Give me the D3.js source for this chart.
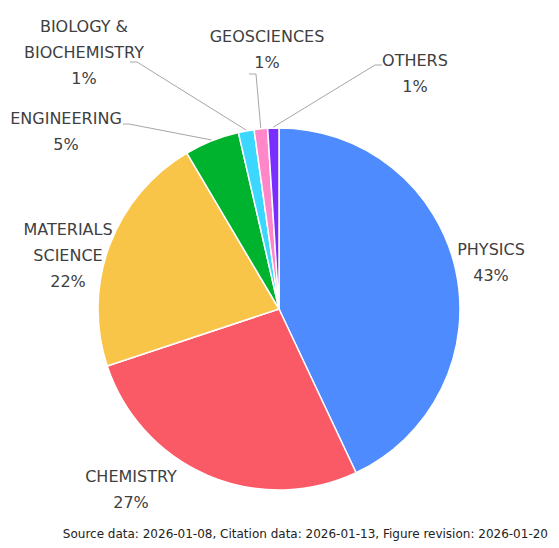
<!DOCTYPE html>
<html>
<head>
<meta charset="utf-8">
<script src="https://cdn.jsdelivr.net/npm/d3@7"></script>
<style>
  body { margin: 0; background: #fff; }
  text { font-family: "DejaVu Sans", sans-serif; fill: #404040; }
</style>
</head>
<body>
<div id="chart"></div>
<script>
// Data
const categories = ['PHYSICS', 'CHEMISTRY', 'MATERIALS SCIENCE', 'ENGINEERING', 'BIOLOGY & BIOCHEMISTRY', 'GEOSCIENCES', 'OTHERS'];
const shares = [43.0, 26.9, 21.6, 4.9, 1.4, 1.2, 1.0];
const labelLines = [['PHYSICS'], ['CHEMISTRY'], ['MATERIALS', 'SCIENCE'], ['ENGINEERING'], ['BIOLOGY &', 'BIOCHEMISTRY'], ['GEOSCIENCES'], ['OTHERS']];
const colors = ['#4e8bff', '#f95a66', '#f9c549', '#00b32e', '#3bd7ff', '#ff86c9', '#7a2dff'];
const footer = 'Source data: 2026-01-08, Citation data: 2026-01-13, Figure revision: 2026-01-20';

// Layout
const width = 559, height = 548;
const cx = 279, cy = 309, radius = 181;
// label centre x, first line y; elbow for leader lines (null = no leader)
const labelPos = [
  { x: 491, y: 255, elbow: null },
  { x: 131, y: 482, elbow: null },
  { x: 68, y: 235, elbow: null },
  { x: 66, y: 124, elbow: [[123, 124], [129, 124]] },
  { x: 84, y: 32, elbow: [[130, 62], [137, 62]] },
  { x: 267, y: 42, elbow: [[249, 74], [256, 74]] },
  { x: 415, y: 66, elbow: [[382, 65], [375, 65]] }
];
const lineH = 26;

const svg = d3.select('#chart')
  .append('svg')
  .attr('width', width)
  .attr('height', height);

const g = svg.append('g').attr('transform', `translate(${cx},${cy})`);

const pie = d3.pie().sort(null).value(d => d);
const arcs = pie(shares);
const arc = d3.arc().innerRadius(0).outerRadius(radius);

g.selectAll('path.slice')
  .data(arcs)
  .enter().append('path')
  .attr('class', 'slice')
  .attr('d', arc)
  .attr('fill', (d, i) => colors[i])
  .attr('stroke', '#fff')
  .attr('stroke-width', 1.5)
  .attr('stroke-linejoin', 'round');

// Leader lines for the small slices
arcs.forEach((d, i) => {
  const p = labelPos[i];
  if (!p.elbow) return;
  const mid = (d.startAngle + d.endAngle) / 2;
  const start = [cx + Math.sin(mid) * (radius + 1), cy - Math.cos(mid) * (radius + 1)];
  const pts = [p.elbow[0], p.elbow[1], start];
  svg.append('path')
    .attr('d', d3.line()(pts))
    .attr('fill', 'none')
    .attr('stroke', '#a6a6a6')
    .attr('stroke-width', 1);
});

// Labels
arcs.forEach((d, i) => {
  const p = labelPos[i];
  const t = svg.append('text')
    .attr('text-anchor', 'middle')
    .attr('font-size', 16);
  const lines = labelLines[i].concat([Math.round(shares[i]) + '%']);
  lines.forEach((s, k) => {
    t.append('tspan')
      .attr('x', p.x)
      .attr('y', p.y + k * lineH)
      .text(s);
  });
});

svg.append('text')
  .attr('x', 548)
  .attr('y', 538)
  .attr('text-anchor', 'end')
  .attr('font-size', 12)
  .style('fill', '#222')
  .text(footer);
</script>
</body>
</html>
